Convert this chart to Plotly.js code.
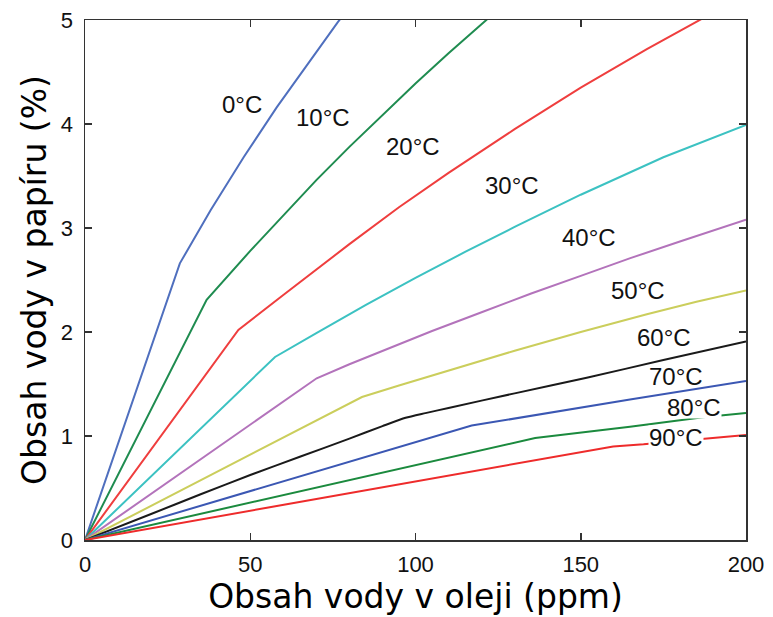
<!DOCTYPE html>
<html>
<head>
<meta charset="utf-8">
<script src="https://cdn.plot.ly/plotly-3.0.1.min.js"></script>
<style>html,body{margin:0;padding:0;background:#fff;}#chart{width:773px;height:617px;}</style>
</head>
<body>
<div id="chart"></div>
<script>
// Water content in oil (ppm) vs water content in paper (%), per temperature
const temps = ["0°C","10°C","20°C","30°C","40°C","50°C","60°C","70°C","80°C","90°C"];

const x0  = [0, 28.7, 38, 48, 58, 68, 76.5, 80];
const y0  = [0, 2.66, 3.17, 3.68, 4.16, 4.61, 4.98, 5.12];
const x10 = [0, 36.8, 50, 60, 70, 80, 90, 100, 110, 120.5, 125];
const y10 = [0, 2.31, 2.78, 3.12, 3.46, 3.78, 4.09, 4.39, 4.68, 4.98, 5.10];
const x20 = [0, 46.4, 60, 70, 80, 95, 110, 130, 150, 170, 185, 190];
const y20 = [0, 2.02, 2.355, 2.60, 2.845, 3.20, 3.53, 3.95, 4.35, 4.72, 4.98, 5.07];
const x30 = [0, 57.5, 70, 85, 100, 115, 130, 150, 175, 200];
const y30 = [0, 1.76, 1.99, 2.26, 2.52, 2.77, 3.01, 3.32, 3.68, 3.99];
const x40 = [0, 70.1, 80, 90, 105, 120, 135, 150, 165, 180, 200];
const y40 = [0, 1.555, 1.69, 1.82, 2.01, 2.19, 2.37, 2.54, 2.71, 2.87, 3.08];
const x50 = [0, 83.8, 95, 110, 130, 150, 170, 185, 200];
const y50 = [0, 1.375, 1.485, 1.63, 1.82, 2.00, 2.17, 2.29, 2.40];
const x60 = [0, 20, 35, 50, 65, 80, 90, 97, 103, 110, 130, 151.8, 175, 200];
const y60 = [0, 0.25, 0.44, 0.625, 0.80, 0.975, 1.095, 1.175, 1.22, 1.27, 1.41, 1.56, 1.73, 1.91];
const x70 = [0, 117, 164.9, 200];
const y70 = [0, 1.10, 1.35, 1.53];
const x80 = [0, 136.2, 164.9, 187, 200];
const y80 = [0, 0.98, 1.09, 1.18, 1.22];
const x90 = [0, 159.8, 169, 189, 200];
const y90 = [0, 0.90, 0.92, 0.98, 1.01];

// label anchor positions (data coords)
const labelX = [47.4, 71.9, 99.2, 129.3, 152.5, 167.2, 175.2, 178.8, 184.3, 178.8];
const labelY = [4.19, 4.06, 3.78, 3.41, 2.91, 2.40, 1.95, 1.57, 1.28, 0.986];

const xTickVals = [0, 50, 100, 150, 200];
const yTickVals = [0, 1, 2, 3, 4, 5];

const xs = [x0, x10, x20, x30, x40, x50, x60, x70, x80, x90];
const ys = [y0, y10, y20, y30, y40, y50, y60, y70, y80, y90];
const colors = ["#4f6fbe", "#1f8c50", "#ef3e3e", "#3cc2c2", "#b373bb", "#cbce5c", "#1a1a1a", "#3b57b3", "#1b8a3e", "#ee2b2b"];

const traces = temps.map((t, i) => ({
  x: xs[i], y: ys[i], name: t, type: "scatter", mode: "lines",
  line: {color: colors[i], width: 2, shape: i === 6 ? "spline" : "linear", smoothing: 0.6},
  hoverinfo: "x+y+name"
}));

const annotations = temps.map((t, i) => {
  const a = {
    x: labelX[i], y: labelY[i], xref: "x", yref: "y", text: t, showarrow: false,
    font: {family: "Liberation Sans, Arial, sans-serif", size: 24, color: "#111"},
    borderpad: 0
  };
  if (i >= 8) { a.bgcolor = "#ffffff"; a.height = 22; a.valign = "middle"; }
  return a;
});

const axisCommon = {
  showgrid: false, zeroline: false, showline: true, mirror: "ticks",
  linecolor: "#333", linewidth: 1.5, ticks: "inside", ticklen: 7, tickwidth: 1.5, tickcolor: "#333",
  tickfont: {family: "Liberation Sans, Arial, sans-serif", size: 22, color: "#111"}
};

const layout = {
  width: 773, height: 617,
  margin: {l: 85, r: 27, t: 20, b: 77},
  paper_bgcolor: "#fff", plot_bgcolor: "#fff",
  showlegend: false,
  xaxis: Object.assign({}, axisCommon, {
    range: [0, 200], tickvals: xTickVals, ticklabelstandoff: 4,
    title: {text: "Obsah vody v oleji (ppm)", font: {family: "DejaVu Sans, Verdana, sans-serif", size: 33, color: "#000"}, standoff: 3}
  }),
  yaxis: Object.assign({}, axisCommon, {
    range: [0, 5], tickvals: yTickVals, ticklabelstandoff: 6,
    title: {text: "Obsah vody v papíru (%)", font: {family: "DejaVu Sans, Verdana, sans-serif", size: 33, color: "#000"}, standoff: 4}
  }),
  annotations: annotations
};

Plotly.newPlot("chart", traces, layout, {displayModeBar: false, staticPlot: true});
</script>
</body>
</html>
